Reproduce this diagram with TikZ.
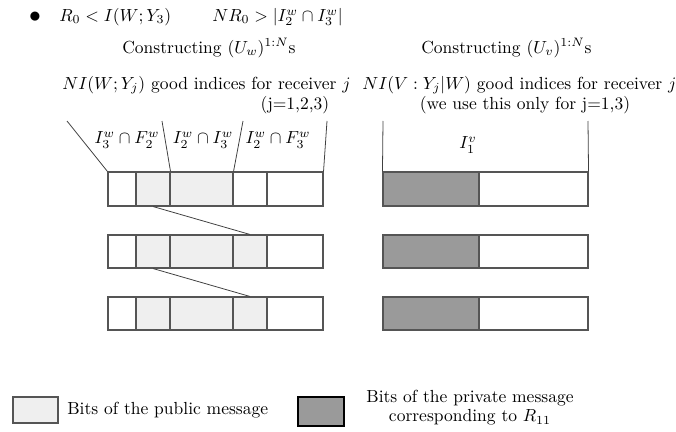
\documentclass[tikz,border=0pt]{standalone}
\usetikzlibrary{fit}
\definecolor{pubfill}{HTML}{EFEFEF}
\definecolor{privfill}{HTML}{9A9A9A}
\definecolor{edge}{HTML}{555555}
\begin{document}
\begin{tikzpicture}[x=0.5714pt,y=-0.5714pt,
  cell/.style={draw=edge,line width=0.6pt,inner sep=0pt},
  pub/.style={cell,fill=pubfill},
  priv/.style={cell,fill=privfill},
  blank/.style={cell,fill=white},
  lbl/.style={inner sep=0pt},
  guide/.style={draw=black!75,line width=0.45pt}]
\useasboundingbox (0,0) rectangle (676,432);

% header lines
\node[lbl,scale=1.35] (bul) at (35,17) {$\bullet$};
\node[lbl,anchor=west] (rate) at (59,17) {$R_0 < I(W;Y_3)$};
\node[lbl,anchor=west] (nrate) at (212,17) {$NR_0 > |I^w_2 \cap I^w_3|$};
\node[lbl,anchor=west] (cw) at (122,48) {Constructing $(U_w)^{1:N}$s};
\node[lbl,anchor=west] (cv) at (421,48) {Constructing $(U_v)^{1:N}$s};
\node[lbl,anchor=west] (gw) at (62,85) {$NI(W;Y_j)$ good indices for receiver $j$};
\node[lbl,anchor=west] (gv) at (362,85) {$NI(V:Y_j|W)$ good indices for receiver $j$};
\node[lbl] (jw) at (295,105) {(j=1,2,3)};
\node[lbl] (jv) at (525,105) {(we use this only for j=1,3)};

% index sets
\node[lbl] (s1) at (127,140) {$I^w_3 \cap F^w_2$};
\node[lbl] (s2) at (203,140) {$I^w_2 \cap I^w_3$};
\node[lbl] (s3) at (278,140) {$I^w_2 \cap F^w_3$};
\node[lbl] (s4) at (468,145) {$I^v_1$};

% the three blocks of bits for each codeword
\foreach \r/\top/\bot/\fc in {1/172/206/blank,2/235/268/pub,3/297/330/pub} {
  \node[blank,fit={(108,\top) (136,\bot)}] (r\r c1) {};
  \node[pub,fit={(136,\top) (170,\bot)}] (r\r c2) {};
  \node[pub,fit={(170,\top) (233,\bot)}] (r\r c3) {};
  \node[\fc,fit={(233,\top) (267,\bot)}] (r\r c4) {};
  \node[blank,fit={(267,\top) (323,\bot)}] (r\r c5) {};
  \node[priv,fit={(383,\top) (479,\bot)}] (v\r a) {};
  \node[blank,fit={(479,\top) (588,\bot)}] (v\r b) {};
}

% boundaries of the index sets
\coordinate (t1) at (67,121);
\coordinate (t2) at (162,121);
\coordinate (t3) at (243,121);
\coordinate (t4) at (327,121);
\coordinate (t5) at (383,121);
\coordinate (t6) at (588,121);
\draw[guide] (t1) -- (r1c1.north west);
\draw[guide] (t2) -- (r1c2.north east);
\draw[guide] (t3) -- (r1c3.north east);
\draw[guide] (t4) -- (r1c5.north east);
\draw[guide] (t5) -- (v1a.north west);
\draw[guide] (t6) -- (v1b.north east);

% chaining between consecutive blocks
\draw[guide] (r1c2.south) -- (r2c4.north);
\draw[guide] (r2c2.south) -- (r3c4.north);

% legend
\node[pub,fit={(13,397) (58,423)}] (legpub) {};
\node[lbl,anchor=west] (legpubtxt) at (67,410) {Bits of the public message};
\node[cell,draw=black,fill=privfill,fit={(298,397) (344,426)}] (legpriv) {};
\node[lbl,align=center] (legprivtxt) at (470,407.5) {Bits of the private message\\[-1.1pt]corresponding to $R_{11}$};
\end{tikzpicture}
\end{document}
